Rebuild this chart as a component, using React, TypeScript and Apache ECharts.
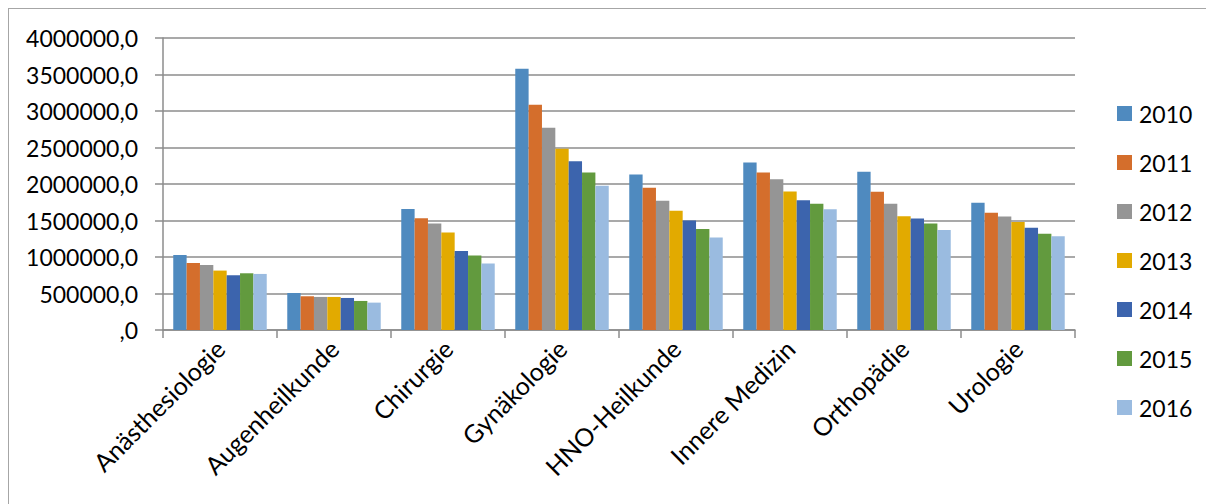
import React, { useEffect, useRef } from "react";
import * as echarts from "echarts";

const categories = ["Anästhesiologie", "Augenheilkunde", "Chirurgie", "Gynäkologie", "HNO-Heilkunde", "Innere Medizin", "Orthopädie", "Urologie"];
const years = ["2010", "2011", "2012", "2013", "2014", "2015", "2016"];
const colors = ["#4F8ABF", "#D46E2C", "#959595", "#E2AA00", "#3C64AD", "#629A3E", "#9ABBE0"];

const v2010 = [1029000, 507000, 1659000, 3579000, 2130000, 2295000, 2167000, 1742000];
const v2011 = [919000, 462000, 1531000, 3086000, 1947000, 2158000, 1893000, 1605000];
const v2012 = [891000, 453000, 1458000, 2770000, 1769000, 2066000, 1728000, 1554000];
const v2013 = [814000, 453000, 1335000, 2482000, 1632000, 1897000, 1559000, 1481000];
const v2014 = [750000, 439000, 1083000, 2313000, 1499000, 1778000, 1527000, 1399000];
const v2015 = [777000, 398000, 1019000, 2158000, 1385000, 1728000, 1458000, 1317000];
const v2016 = [768000, 375000, 910000, 1975000, 1266000, 1655000, 1371000, 1285000];
const seriesValues = [v2010, v2011, v2012, v2013, v2014, v2015, v2016];

const FONT = "Lato";

export default function App() {
  const ref = useRef<HTMLDivElement>(null);
  useEffect(() => {
    if (!ref.current) return;
    const chart = echarts.init(ref.current, undefined, { renderer: "svg" });
    chart.setOption({
      animation: false,
      textStyle: { fontFamily: FONT },
      grid: { left: 154, top: 29, right: 139, bottom: 174, containLabel: false },
      legend: {
        orient: "vertical",
        left: 1108,
        top: 93,
        padding: 0,
        itemWidth: 15,
        itemHeight: 15,
        itemGap: 26,
        icon: "rect",
        textStyle: { fontFamily: FONT, fontSize: 23, color: "#000", lineHeight: 22, padding: [0, 0, 0, 2] },
        data: years,
      },
      xAxis: {
        type: "category",
        data: categories,
        axisLine: { lineStyle: { color: "#8c8c8c", width: 1.5 } },
        axisTick: { show: true, length: 8, lineStyle: { color: "#8c8c8c", width: 1.5 } },
        axisLabel: { rotate: 45, fontSize: 25, color: "#000", fontFamily: FONT, margin: 14, interval: 0 },
      },
      yAxis: {
        type: "value",
        min: 0,
        max: 4000000,
        interval: 500000,
        axisLine: { show: true, lineStyle: { color: "#8c8c8c", width: 1.5 } },
        axisTick: { show: true, length: 8, lineStyle: { color: "#8c8c8c", width: 1.5 } },
        splitLine: { lineStyle: { color: "#8c8c8c", width: 1.5 } },
        axisLabel: {
          fontSize: 23,
          color: "#000",
          fontFamily: FONT,
          margin: 25,
          formatter: (v: number) => (v === 0 ? ",0" : v + ",0"),
        },
      },
      series: years.map((y, i) => ({
        name: y,
        type: "bar",
        data: seriesValues[i],
        barGap: "0%",
        barCategoryGap: "18%",
        itemStyle: { color: colors[i] },
      })),
    });
    return () => chart.dispose();
  }, []);
  return (
    <div
      ref={ref}
      style={{
        width: 1206,
        height: 496,
        boxSizing: "border-box",
        borderTop: "1px solid #a6a6a6",
        borderLeft: "1px solid #a6a6a6",
      }}
    />
  );
}
